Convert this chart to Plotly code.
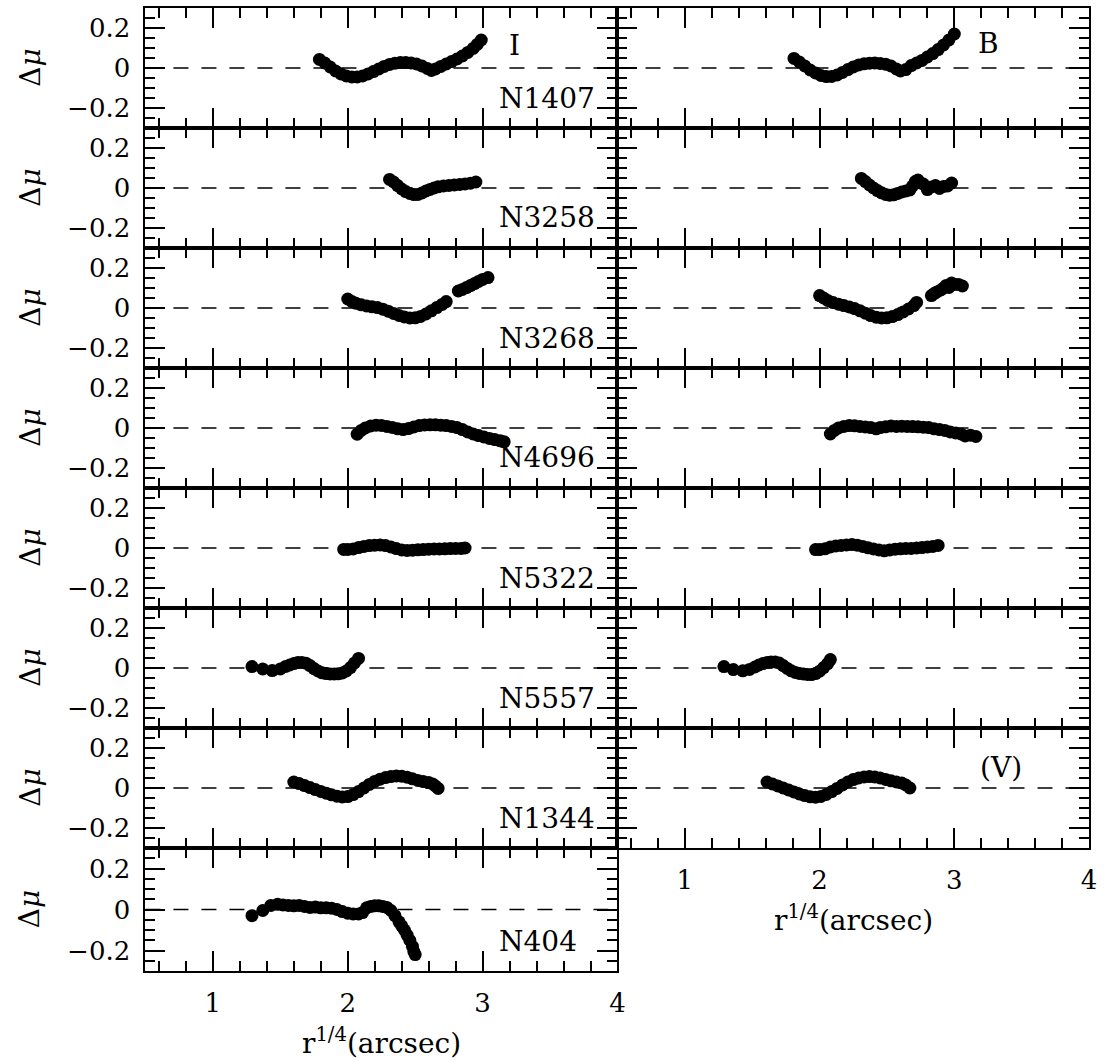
import plotly.graph_objects as go

W, H = 1104, 1061

# ---------------- data ----------------
n1407_I_x = [1.79, 1.83, 1.87, 1.91, 1.95, 1.99, 2.03, 2.07, 2.11, 2.15, 2.19, 2.23, 2.27, 2.31, 2.35, 2.39,
             2.43, 2.47, 2.51, 2.55, 2.59, 2.62, 2.65, 2.69, 2.73, 2.77, 2.81, 2.85, 2.89, 2.93, 2.96, 2.99]
n1407_I_y = [0.043, 0.025, 0.005, -0.015, -0.030, -0.040, -0.045, -0.045, -0.040, -0.030, -0.018, -0.005, 0.008,
             0.018, 0.024, 0.027, 0.027, 0.025, 0.020, 0.010, -0.002, -0.012, -0.005, 0.008, 0.020, 0.032, 0.045,
             0.060, 0.078, 0.098, 0.118, 0.140]

n1407_B_x = [1.81, 1.85, 1.89, 1.93, 1.97, 2.01, 2.05, 2.09, 2.13, 2.17, 2.21, 2.25, 2.29, 2.33, 2.37, 2.41,
             2.45, 2.49, 2.53, 2.57, 2.60, 2.64, 2.68, 2.72, 2.76, 2.80, 2.84, 2.88, 2.92, 2.96, 3.00]
n1407_B_y = [0.048, 0.030, 0.010, -0.010, -0.025, -0.037, -0.043, -0.042, -0.035, -0.022, -0.008, 0.005, 0.015,
             0.021, 0.024, 0.025, 0.023, 0.019, 0.010, -0.005, -0.015, -0.008, 0.012, 0.025, 0.038, 0.055, 0.072,
             0.092, 0.115, 0.140, 0.170]

n3258_I_x = [2.31, 2.34, 2.37, 2.40, 2.43, 2.46, 2.49, 2.52, 2.55, 2.58, 2.61, 2.64, 2.67, 2.71, 2.75, 2.79,
             2.83, 2.87, 2.91, 2.95]
n3258_I_y = [0.043, 0.030, 0.012, -0.005, -0.018, -0.027, -0.033, -0.032, -0.025, -0.015, -0.007, 0.000, 0.006,
             0.010, 0.013, 0.015, 0.018, 0.020, 0.024, 0.030]

n3258_B_x = [2.31, 2.34, 2.37, 2.40, 2.43, 2.46, 2.49, 2.52, 2.55, 2.58, 2.61, 2.64, 2.67, 2.69, 2.71, 2.73,
             2.75, 2.77, 2.80, 2.83, 2.86, 2.89, 2.92, 2.95, 2.98]
n3258_B_y = [0.048, 0.032, 0.015, 0.000, -0.013, -0.024, -0.032, -0.036, -0.034, -0.027, -0.020, -0.015, -0.010,
             0.010, 0.032, 0.040, 0.025, 0.020, -0.008, 0.005, 0.012, -0.002, 0.008, 0.010, 0.025]

n3268_I_x = [2.00, 2.03, 2.06, 2.10, 2.14, 2.18, 2.22, 2.26, 2.30, 2.34, 2.38, 2.42, 2.46, 2.50, 2.54, 2.58,
             2.62, 2.66, 2.70, 2.73, 2.82, 2.85, 2.88, 2.91, 2.94, 2.97, 3.00, 3.04]
n3268_I_y = [0.045, 0.033, 0.024, 0.016, 0.010, 0.006, 0.002, -0.006, -0.016, -0.027, -0.037, -0.045, -0.050,
             -0.049, -0.042, -0.030, -0.014, 0.002, 0.018, 0.032, 0.085, 0.093, 0.102, 0.112, 0.122, 0.133,
             0.143, 0.152]

n3268_B_x = [2.00, 2.03, 2.06, 2.10, 2.14, 2.18, 2.22, 2.26, 2.30, 2.34, 2.38, 2.42, 2.46, 2.50, 2.54, 2.58,
             2.62, 2.66, 2.70, 2.72, 2.83, 2.85, 2.87, 2.90, 2.92, 2.94, 2.96, 2.98, 3.00, 3.03, 3.06]
n3268_B_y = [0.062, 0.050, 0.038, 0.027, 0.019, 0.012, 0.005, -0.003, -0.014, -0.026, -0.038, -0.046, -0.050,
             -0.049, -0.043, -0.033, -0.020, -0.005, 0.012, 0.028, 0.062, 0.072, 0.080, 0.090, 0.100, 0.113,
             0.103, 0.125, 0.118, 0.118, 0.110]

n4696_I_x = [2.07, 2.10, 2.13, 2.17, 2.21, 2.25, 2.29, 2.33, 2.37, 2.41, 2.45, 2.49, 2.53, 2.57, 2.61, 2.65,
             2.69, 2.73, 2.77, 2.81, 2.85, 2.89, 2.93, 2.97, 3.01, 3.05, 3.09, 3.13, 3.16]
n4696_I_y = [-0.031, -0.012, 0.000, 0.010, 0.014, 0.013, 0.008, 0.003, -0.004, -0.008, -0.003, 0.005, 0.012,
             0.015, 0.016, 0.016, 0.014, 0.012, 0.008, 0.002, -0.008, -0.020, -0.030, -0.038, -0.045, -0.052,
             -0.058, -0.064, -0.069]

n4696_B_x = [2.08, 2.11, 2.14, 2.18, 2.22, 2.26, 2.30, 2.34, 2.38, 2.42, 2.45, 2.49, 2.53, 2.57, 2.61, 2.65,
             2.69, 2.73, 2.77, 2.81, 2.85, 2.89, 2.93, 2.97, 3.01, 3.05, 3.08, 3.12, 3.16]
n4696_B_y = [-0.030, -0.012, 0.000, 0.008, 0.012, 0.011, 0.008, 0.005, 0.002, -0.004, 0.002, 0.006, 0.010,
             0.008, 0.009, 0.008, 0.007, 0.006, 0.004, 0.002, -0.004, -0.008, -0.012, -0.020, -0.025, -0.030,
             -0.040, -0.036, -0.042]

n5322_I_x = [1.97, 2.00, 2.04, 2.08, 2.12, 2.16, 2.20, 2.24, 2.28, 2.32, 2.36, 2.40, 2.44, 2.48, 2.52, 2.56,
             2.60, 2.64, 2.68, 2.72, 2.76, 2.80, 2.84, 2.87]
n5322_I_y = [-0.007, -0.007, -0.005, 0.002, 0.008, 0.012, 0.014, 0.015, 0.012, 0.005, -0.003, -0.010, -0.012,
             -0.011, -0.009, -0.008, -0.006, -0.005, -0.005, -0.004, -0.003, -0.002, -0.002, 0.000]

n5322_B_x = [1.97, 2.00, 2.04, 2.08, 2.12, 2.16, 2.20, 2.24, 2.28, 2.32, 2.36, 2.40, 2.44, 2.48, 2.52, 2.56,
             2.60, 2.64, 2.68, 2.72, 2.76, 2.80, 2.84, 2.88]
n5322_B_y = [-0.008, -0.008, -0.004, 0.005, 0.010, 0.013, 0.015, 0.017, 0.014, 0.008, 0.001, -0.005, -0.010,
             -0.014, -0.010, -0.006, -0.004, -0.002, -0.002, 0.000, 0.002, 0.005, 0.008, 0.013]

n5557_I_x = [1.29, 1.37, 1.44, 1.50, 1.54, 1.57, 1.60, 1.63, 1.66, 1.69, 1.72, 1.75, 1.78, 1.81, 1.84, 1.87,
             1.90, 1.93, 1.96, 1.99, 2.02, 2.05, 2.08]
n5557_I_y = [0.007, -0.005, -0.013, -0.005, 0.008, 0.015, 0.022, 0.027, 0.028, 0.024, 0.012, -0.003, -0.015,
             -0.024, -0.028, -0.030, -0.030, -0.029, -0.025, -0.015, 0.002, 0.025, 0.048]

n5557_B_x = [1.29, 1.36, 1.43, 1.48, 1.52, 1.55, 1.58, 1.61, 1.64, 1.67, 1.70, 1.73, 1.76, 1.79, 1.82, 1.85,
             1.88, 1.91, 1.94, 1.97, 2.00, 2.03, 2.06, 2.08]
n5557_B_y = [0.007, -0.008, -0.014, -0.007, 0.005, 0.015, 0.022, 0.027, 0.030, 0.030, 0.025, 0.012, -0.002,
             -0.014, -0.022, -0.027, -0.030, -0.032, -0.033, -0.028, -0.016, 0.002, 0.022, 0.042]

n1344_I_x = [1.60, 1.64, 1.68, 1.72, 1.76, 1.80, 1.84, 1.88, 1.92, 1.96, 2.00, 2.04, 2.08, 2.12, 2.16, 2.20,
             2.24, 2.28, 2.32, 2.36, 2.40, 2.44, 2.48, 2.52, 2.56, 2.60, 2.63, 2.65, 2.67]
n1344_I_y = [0.030, 0.022, 0.012, 0.002, -0.008, -0.017, -0.026, -0.034, -0.041, -0.045, -0.043, -0.033,
             -0.018, 0.000, 0.018, 0.033, 0.044, 0.052, 0.057, 0.060, 0.059, 0.054, 0.046, 0.038, 0.032, 0.027,
             0.020, 0.010, -0.002]

n1344_V_x = [1.61, 1.65, 1.69, 1.73, 1.77, 1.81, 1.85, 1.89, 1.93, 1.97, 2.01, 2.05, 2.09, 2.13, 2.17, 2.21,
             2.25, 2.29, 2.33, 2.37, 2.41, 2.45, 2.49, 2.53, 2.57, 2.61, 2.64, 2.67]
n1344_V_y = [0.030, 0.020, 0.010, 0.000, -0.010, -0.020, -0.030, -0.038, -0.044, -0.046, -0.042, -0.032,
             -0.018, -0.002, 0.015, 0.030, 0.042, 0.050, 0.055, 0.057, 0.055, 0.050, 0.043, 0.036, 0.030, 0.025,
             0.015, 0.000]

n404_I_x = [1.29, 1.37, 1.43, 1.48, 1.52, 1.56, 1.60, 1.64, 1.68, 1.72, 1.76, 1.80, 1.84, 1.88, 1.92, 1.96,
            2.00, 2.04, 2.08, 2.11, 2.14, 2.17, 2.20, 2.23, 2.26, 2.29, 2.32, 2.35, 2.38, 2.40, 2.42, 2.44,
            2.46, 2.48, 2.49, 2.50]
n404_I_y = [-0.030, -0.005, 0.020, 0.025, 0.022, 0.020, 0.018, 0.020, 0.015, 0.010, 0.012, 0.008, 0.008, 0.006,
            0.000, -0.010, -0.018, -0.022, -0.022, -0.015, 0.008, 0.015, 0.018, 0.018, 0.015, 0.010, -0.005,
            -0.030, -0.060, -0.080, -0.100, -0.125, -0.150, -0.180, -0.205, -0.220]

galaxy_names = ["N1407", "N3258", "N3268", "N4696", "N5322", "N5557", "N1344", "N404"]
left_series = [(n1407_I_x, n1407_I_y), (n3258_I_x, n3258_I_y), (n3268_I_x, n3268_I_y), (n4696_I_x, n4696_I_y),
               (n5322_I_x, n5322_I_y), (n5557_I_x, n5557_I_y), (n1344_I_x, n1344_I_y), (n404_I_x, n404_I_y)]
right_series = [(n1407_B_x, n1407_B_y), (n3258_B_x, n3258_B_y), (n3268_B_x, n3268_B_y), (n4696_B_x, n4696_B_y),
                (n5322_B_x, n5322_B_y), (n5557_B_x, n5557_B_y), (n1344_V_x, n1344_V_y)]

x_range = [0.5, 4.0]
y_range = [-0.3, 0.3]
x_title = "r<sup>1/4</sup>(arcsec)"
y_title = "Δ<i>μ</i>"

# ---------------- layout geometry (pixels) ----------------
FONT = "DejaVu Serif"
col_px = [(146.5, 622.0), (622.0, 1097.0)]
row_top = [8, 128, 248, 368, 488, 608, 728, 848]
row_bot = [128, 248, 368, 488, 608, 728, 848, 971]


def px_x(p):
    return p / W


def px_y(p):
    return 1 - p / H


fig = go.Figure()
layout = dict(
    width=W, height=H, margin=dict(l=0, r=0, t=0, b=0),
    paper_bgcolor="white", plot_bgcolor="white", showlegend=False,
    font=dict(family=FONT, color="black"),
)
shapes = []
annotations = []

panels = []
for i, s in enumerate(left_series):
    panels.append((i, 0, s))
for i, s in enumerate(right_series):
    panels.append((i, 1, s))

for k, (r, c, (xs, ys)) in enumerate(panels, start=1):
    xa = "xaxis" if k == 1 else f"xaxis{k}"
    ya = "yaxis" if k == 1 else f"yaxis{k}"
    xref = "x" if k == 1 else f"x{k}"
    yref = "y" if k == 1 else f"y{k}"
    show_x_labels = (c == 0 and r == 7) or (c == 1 and r == 6)
    show_y_labels = c == 0
    layout[xa] = dict(
        domain=[px_x(col_px[c][0]), px_x(col_px[c][1])], anchor=yref,
        range=x_range, tick0=0, dtick=1, ticks="inside", ticklen=20, tickwidth=1.5, tickcolor="black",
        minor=dict(dtick=0.2, tick0=0, ticks="inside", ticklen=10, tickwidth=1.5, tickcolor="black"),
        showline=True, linecolor="black", linewidth=2, mirror="allticks",
        showgrid=False, zeroline=False, showticklabels=show_x_labels,
        tickfont=dict(family=FONT, size=26, color="black"), ticklabelstandoff=8,
    )
    layout[ya] = dict(
        domain=[px_y(row_bot[r]), px_y(row_top[r])], anchor=xref,
        range=y_range, tickvals=[-0.2, 0, 0.2], ticktext=["−0.2", "0", "0.2"],
        ticks="inside", ticklen=20, tickwidth=1.5, tickcolor="black",
        minor=dict(dtick=0.05, tick0=0, ticks="inside", ticklen=10, tickwidth=1.5, tickcolor="black"),
        showline=True, linecolor="black", linewidth=2, mirror="allticks",
        showgrid=False, zeroline=False, showticklabels=show_y_labels,
        tickfont=dict(family=FONT, size=26, color="black"), ticklabelstandoff=8,
    )
    fig.add_trace(go.Scatter(x=xs, y=ys, mode="markers", xaxis=xref, yaxis=yref,
                             marker=dict(color="black", size=13, line=dict(width=0)),
                             hoverinfo="skip"))
    shapes.append(dict(type="line", xref=f"{xref} domain", yref=yref, x0=0, x1=1, y0=0, y1=0,
                       line=dict(color="black", width=1.5, dash="15px,13px"), layer="below"))
    if c == 0:
        annotations.append(dict(text=galaxy_names[r], xref="paper", yref="paper",
                                x=px_x(501), y=px_y(row_bot[r] - 30), xanchor="left", yanchor="middle",
                                showarrow=False, font=dict(family=FONT, size=28, color="black")))
        annotations.append(dict(text=y_title, xref="paper", yref="paper", textangle=-90,
                                x=px_x(30), y=px_y((row_top[r] + row_bot[r]) / 2),
                                xanchor="center", yanchor="middle", showarrow=False,
                                font=dict(family=FONT, size=28, color="black")))

# band labels
for txt, xp, yp in [("I", 518, 45), ("B", 996, 43), ("(V)", 1008, 767)]:
    annotations.append(dict(text=txt, xref="paper", yref="paper", x=px_x(xp), y=px_y(yp),
                            xanchor="center", yanchor="middle", showarrow=False,
                            font=dict(family=FONT, size=28, color="black")))

# x-axis titles
for xp, yp in [(384, 1041), (859.5, 918)]:
    annotations.append(dict(text=x_title, xref="paper", yref="paper", x=px_x(xp), y=px_y(yp),
                            xanchor="center", yanchor="middle", showarrow=False,
                            font=dict(family=FONT, size=28, color="black")))

layout["shapes"] = shapes
layout["annotations"] = annotations
fig.update_layout(**layout)
fig.write_html("out.html")
